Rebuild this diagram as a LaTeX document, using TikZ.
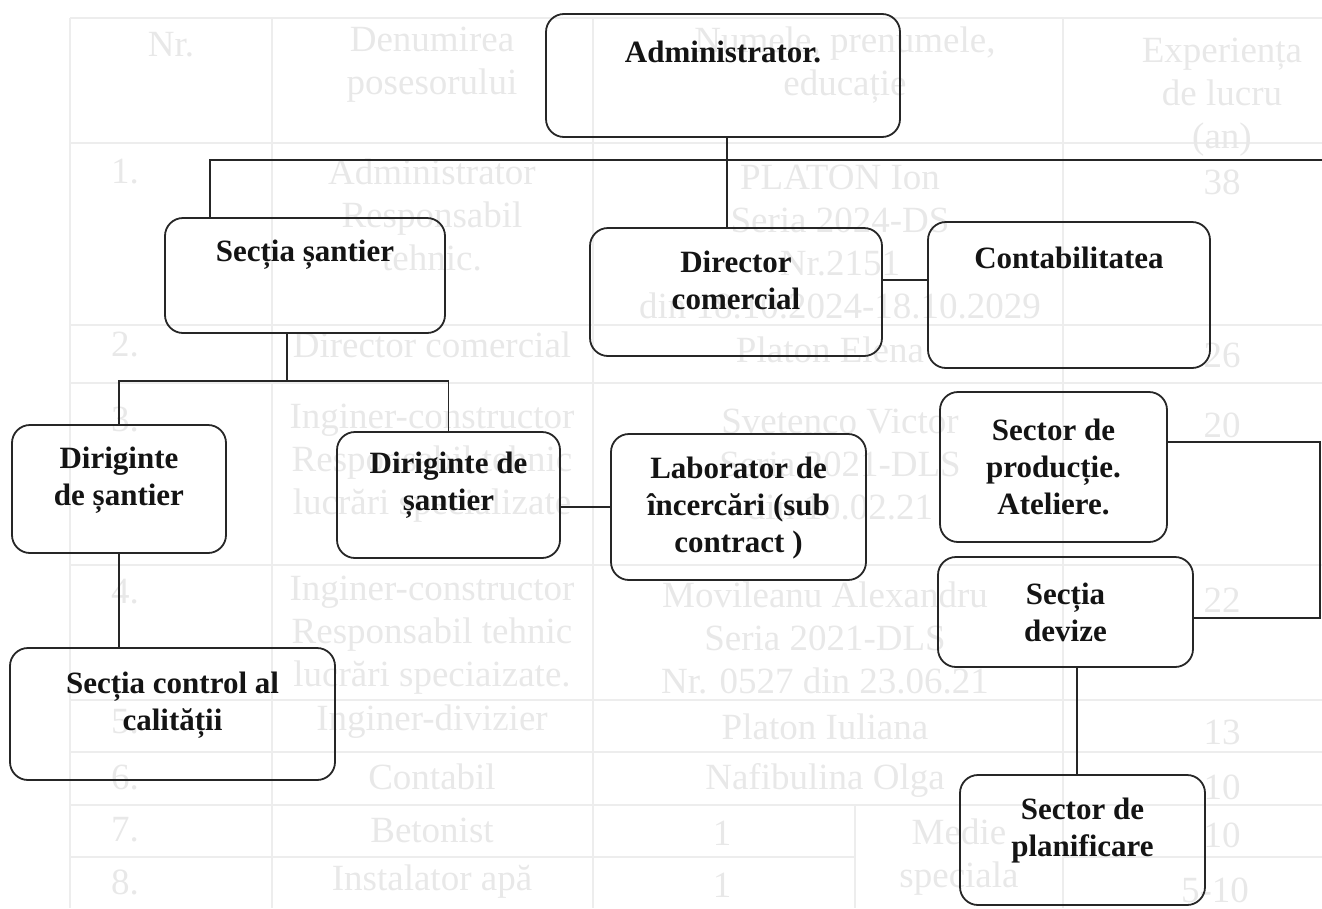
\documentclass[tikz,border=0pt]{standalone}
\usepackage{fontspec}
\setmainfont{Liberation Serif}
\begin{document}
\begin{tikzpicture}[x=1pt,y=-1pt,
  box/.style={draw=black!85, line width=1.8pt, rounded corners=18pt, inner sep=0pt},
  lbl/.style={font=\fontsize{31}{37}\selectfont\bfseries, align=center, text=black!92, inner sep=0pt},
  ghost/.style={font=\fontsize{37}{43}\selectfont, align=center, text=black!9, inner sep=0pt},
  ghostline/.style={draw=black!7, line width=1.5pt},
  conn/.style={draw=black!85, line width=1.8pt}]
\useasboundingbox (0,0) rectangle (1322,908);

% ---- faint table in the background ----
\draw[ghostline] (70,18) -- (1322,18);
\draw[ghostline] (70,143) -- (1322,143);
\draw[ghostline] (70,325) -- (1322,325);
\draw[ghostline] (70,383) -- (1322,383);
\draw[ghostline] (70,565) -- (1322,565);
\draw[ghostline] (70,700) -- (1322,700);
\draw[ghostline] (70,752) -- (1322,752);
\draw[ghostline] (70,805) -- (1322,805);
\draw[ghostline] (70,857) -- (855,857);
\draw[ghostline] (1063,857) -- (1322,857);
\draw[ghostline] (70,18) -- (70,908);
\draw[ghostline] (272,18) -- (272,908);
\draw[ghostline] (593,18) -- (593,908);
\draw[ghostline] (1063,18) -- (1063,908);
\draw[ghostline] (855,805) -- (855,908);

\node[ghost] (h1) at (171,45) {Nr.};
\node[ghost] (h2) at (432,65) {Denumirea\\posesorului};
\node[ghost] (h3) at (845,65) {Numele, prenumele,\\educație};
\node[ghost] (h4) at (1222,97) {Experiența\\de lucru\\(an)};

\node[ghost] (r1a) at (125,172) {1.};
\node[ghost] (r1b) at (432,215) {Administrator\\Responsabil\\tehnic.};
\node[ghost] (r1c) at (840,242) {PLATON Ion\\Seria 2024-DS\\Nr.2151\\din 18.10.2024-18.10.2029};
\node[ghost] (r1d) at (1222,182) {38};

\node[ghost] (r2a) at (125,345) {2.};
\node[ghost] (r2b) at (432,345) {Director comercial};
\node[ghost] (r2c) at (830,350) {Platon Elena};
\node[ghost] (r2d) at (1222,355) {26};

\node[ghost] (r3a) at (125,420) {3.};
\node[ghost] (r3b) at (432,463) {Inginer-constructor\\Responsabil tehnic\\lucrări specializate};
\node[ghost] (r3c) at (840,465) {Svetenco Victor\\Seria 2021-DLS\\din 10.02.21};
\node[ghost] (r3d) at (1222,425) {20};

\node[ghost] (r4a) at (125,592) {4.};
\node[ghost] (r4b) at (432,635) {Inginer-constructor\\Responsabil tehnic\\lucrări speciaizate.};
\node[ghost] (r4c) at (825,638) {Movileanu Alexandru\\Seria 2021-DLS\\Nr. 0527 din 23.06.21};
\node[ghost] (r4d) at (1222,600) {22};

\node[ghost] (r5a) at (125,722) {5.};
\node[ghost] (r5b) at (432,722) {Inginer-divizier};
\node[ghost] (r5c) at (825,727) {Platon Iuliana};
\node[ghost] (r5d) at (1222,732) {13};

\node[ghost] (r6a) at (125,777) {6.};
\node[ghost] (r6b) at (432,777) {Contabil};
\node[ghost] (r6c) at (825,780) {Nafibulina Olga};
\node[ghost] (r6d) at (1222,787) {10};

\node[ghost] (r7a) at (125,830) {7.};
\node[ghost] (r7b) at (432,830) {Betonist};
\node[ghost] (r7c) at (722,833) {1};
\node[ghost] (r7e) at (959,857) {Medie\\speciala};
\node[ghost] (r7d) at (1222,835) {10};

\node[ghost] (r8a) at (125,882) {8.};
\node[ghost] (r8b) at (432,882) {Instalator apă};
\node[ghost] (r8c) at (722,885) {1};
\node[ghost] (r8d) at (1215,890) {5-10};

% ---- organisation chart ----
\node[box, minimum width=354pt, minimum height=123pt] (adm)  at (723,75.5) {};
\node[box, minimum width=280pt, minimum height=115pt] (sant) at (305,275.5) {};
\node[box, minimum width=292pt, minimum height=128pt] (dir)  at (736,292) {};
\node[box, minimum width=282pt, minimum height=146pt] (cont) at (1069,295) {};
\node[box, minimum width=214pt, minimum height=128pt] (dirl) at (119,489) {};
\node[box, minimum width=223pt, minimum height=126pt] (dirr) at (448.5,495) {};
\node[box, minimum width=255pt, minimum height=146pt] (lab)  at (738.5,507) {};
\node[box, minimum width=227pt, minimum height=150pt] (prod) at (1053.5,467) {};
\node[box, minimum width=255pt, minimum height=110pt] (dev)  at (1065.5,612) {};
\node[box, minimum width=325pt, minimum height=132pt] (ctrl) at (172.5,714) {};
\node[box, minimum width=245pt, minimum height=130pt] (plan) at (1082.5,840) {};

\node[lbl] (admt)  at (723,52)    {Administrator.};
\node[lbl] (santt) at (305,255)   {Secția șantier};
\node[lbl] (dirt)  at (736,280)   {Director\\comercial};
\node[lbl] (contt) at (1069,258)  {Contabilitatea};
\node[lbl] (dirlt) at (119,480)   {Diriginte\\de șantier};
\node[lbl] (dirrt) at (448.5,485) {Diriginte de\\șantier};
\node[lbl] (labt)  at (738.5,508) {Laborator de\\încercări (sub\\contract )};
\node[lbl] (prodt) at (1053.5,467){Sector de\\producție.\\Ateliere.};
\node[lbl] (devt)  at (1065.5,612){Secția\\devize};
\node[lbl] (ctrlt) at (172.5,705) {Secția control al\\calității};
\node[lbl] (plant) at (1082.5,831){Sector de\\planificare};

\coordinate (tl) at (210,160);
\coordinate (tc) at (727,160);
\coordinate (tr) at (1322,160);
\coordinate (sb) at (287,381);
\coordinate (dc) at (905,280);
\coordinate (rr) at (1320,442);
\coordinate (rd) at (1320,618);
\coordinate (dp) at (1077,700);

\draw[conn] (adm.south -| tc) -- (dir.north -| tc);
\draw[conn] (sant.north -| tl) -- (tl) -- (tr);
\draw[conn] (sant.south -| sb) -- (sb);
\draw[conn] (dirl.north) |- (sb) -| (dirr.north);
\draw[conn] (lab.west -| dirr.east) -- (lab.west);
\draw[conn] (dc -| dir.east) -- (dc -| cont.west);
\draw[conn] (dirl.south) -- (dirl.south |- ctrl.north);
\draw[conn] (prod.east |- rr) -- (rr) -- (rd) -- (rd -| dev.east);
\draw[conn] (dp |- dev.south) -- (dp |- plan.north);
\end{tikzpicture}
\end{document}
